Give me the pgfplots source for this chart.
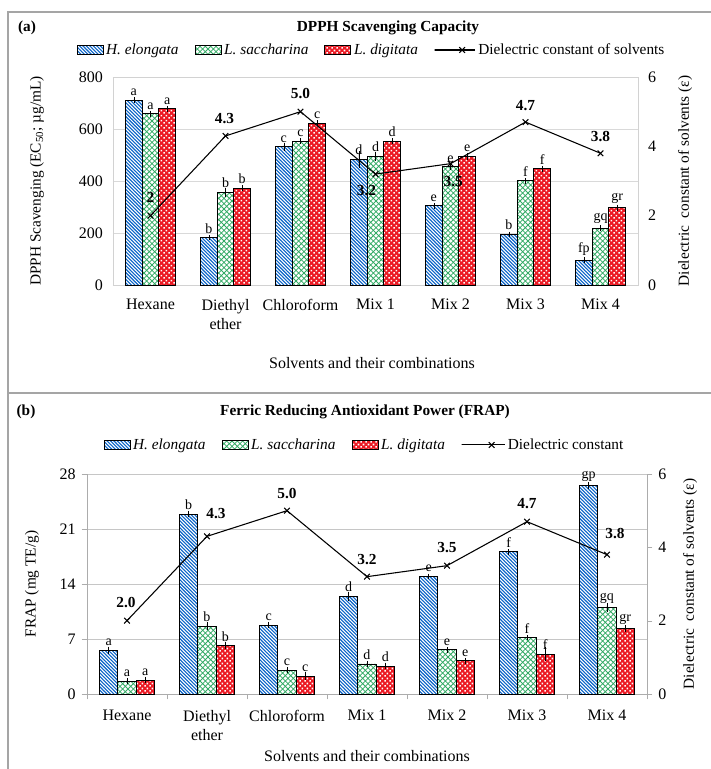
\documentclass[border=0pt]{standalone}
\usepackage{pgfplots}
\pgfplotsset{compat=1.18}
\usepackage{pgfplotstable}
\usepackage{fontspec}
\setmainfont{Liberation Serif}
\usetikzlibrary{patterns}

\definecolor{hblue}{RGB}{10,100,200}
\definecolor{lgreen}{RGB}{50,170,100}
\definecolor{dred}{RGB}{235,25,35}
\definecolor{framegray}{RGB}{165,165,165}

\pgfdeclarepatternformonly{hstripes}{\pgfqpoint{-1pt}{-1pt}}{\pgfqpoint{3.6pt}{3.6pt}}{\pgfqpoint{2.6pt}{2.6pt}}{%
  \pgfsetlinewidth{0.75pt}%
  \pgfpathmoveto{\pgfqpoint{-0.1pt}{2.7pt}}\pgfpathlineto{\pgfqpoint{2.7pt}{-0.1pt}}%
  \pgfusepath{stroke}}
\pgfdeclarepatternformonly{gcross}{\pgfqpoint{-1pt}{-1pt}}{\pgfqpoint{5pt}{5pt}}{\pgfqpoint{4pt}{4pt}}{%
  \pgfsetlinewidth{0.6pt}%
  \pgfpathmoveto{\pgfqpoint{-0.1pt}{-0.1pt}}\pgfpathlineto{\pgfqpoint{4.1pt}{4.1pt}}%
  \pgfpathmoveto{\pgfqpoint{-0.1pt}{4.1pt}}\pgfpathlineto{\pgfqpoint{4.1pt}{-0.1pt}}%
  \pgfusepath{stroke}}
\pgfdeclarepatternformonly{rdots}{\pgfqpoint{0pt}{0pt}}{\pgfqpoint{3.6pt}{3.6pt}}{\pgfqpoint{3.6pt}{3.6pt}}{%
  \pgfpathrectangle{\pgfqpoint{0.2pt}{0.2pt}}{\pgfqpoint{1.3pt}{1.3pt}}%
  \pgfpathrectangle{\pgfqpoint{2pt}{2pt}}{\pgfqpoint{1.3pt}{1.3pt}}%
  \pgfusepath{fill}}

\newcommand{\lab}{\fontsize{11.5}{14.5}\selectfont}
\newcommand{\tck}{\fontsize{12}{14.5}\selectfont}
\newcommand{\letr}{\fontsize{10.5}{12}\selectfont}
\newcommand{\ic}[2]{({(#1)*0.75pt},{(769-(#2))*0.75pt})}

\pgfplotstableread{
x he hee hel ls lse lsl ld lde ldl
0 711 3 a 659 3 a 678 3 a
1 182 2 b 356 8 b 372 3 b
2 531 6 c 553 3 c 622 3 c
3 483 25 d 495 8 d 553 3 d
4 304 3 e 455 5 e 494 5 e
5 195 2 b 401 3 f 447 3 f
6 96 2 fp 218 3 gq 297 4 gr
}\dpph

\pgfplotstableread{
x he hee hel ls lse lsl ld lde ldl
0 5.56 0.2 a 1.65 0.1 a 1.74 0.1 a
1 22.9 0.15 b 8.65 0.2 b 6.15 0.15 b
2 8.78 0.12 c 3.05 0.1 c 2.29 0.2 c
3 12.4 0.25 d 3.82 0.1 d 3.56 0.15 d
4 15.0 0.05 e 5.64 0.1 e 4.24 0.1 e
5 18.1 0.1 f 7.17 0.05 f 5.05 0.6 f
6 26.5 0.2 gp 11.0 0.25 gq 8.31 0.15 gr
}\frap

\pgfplotstableread{
x d
0 2.0
1 4.3
2 5.0
3 3.2
4 3.5
5 4.7
6 3.8
}\diel

\pgfplotsset{
  hestyle/.style={fill=hblue, draw=black, line width=0.7pt, postaction={pattern=hstripes, pattern color=white}},
  lsstyle/.style={fill=white, draw=black, line width=0.7pt, postaction={pattern=gcross, pattern color=lgreen}},
  ldstyle/.style={fill=dred, draw=black, line width=0.7pt, postaction={pattern=rdots, pattern color=white}},
  barcommon/.style={
    ybar, xmin=-0.5, xmax=6.5, scale only axis, clip=false,
    xtick={0,...,6},
    xticklabels={Hexane,{Diethyl\\ether},Chloroform,Mix 1,Mix 2,Mix 3,Mix 4},
    /pgf/number format/assume math mode=true,
    legend image code/.code={\draw[##1] (0pt,-3.4pt) rectangle (19.5pt,3.4pt);},
    legend columns=4,
    error bars/y dir=both, error bars/y explicit,
    error bars/error bar style={black, line width=0.45pt},
    error bars/error mark options={black, mark size=1.6pt, line width=0.45pt},
    nodes near coords, point meta=explicit symbolic,
    nodes near coords style={font=\letr, inner sep=1pt, yshift=2pt, black},
  },
  linelegend/.style={black, line width=0.8pt, mark=x, mark size=3pt,
    legend image code/.code={\draw[##1] (0pt,0pt) -- (19.5pt,0pt); \path[##1] plot coordinates {(9.75pt,0pt)};}},
}

\begin{document}
\begin{tikzpicture}
\useasboundingbox (0,0) rectangle (533.25pt,576.75pt);
\draw[framegray, line width=0.9pt] \ic{8}{12} rectangle \ic{716}{393};
\draw[framegray, line width=0.9pt] \ic{8}{393} rectangle \ic{716}{776};

% ---------------- Panel (a) ----------------
\begin{axis}[barcommon,
  at={(84.75pt,363pt)}, anchor=south west,
  width=393.75pt, height=156pt,
  ymin=0, ymax=800, ytick={0,200,...,800},
  bar width=0.222,
  xticklabel style={align=center, font=\tck, yshift=-7pt},
  yticklabel style={font=\tck, xshift=-4pt},
  major tick length=0pt,
  axis line style={draw=gray!35},
  ymajorgrids, grid style={draw=gray!30},
  legend style={at={(0.493,1.130)}, anchor=center, draw=none, fill=none, font=\lab, inner sep=0pt,
    /tikz/every even column/.append style={column sep=10pt}},
]
\addplot[hestyle, bar shift=-0.222] table[x=x, y=he, y error=hee, meta=hel]{\dpph};
\addlegendentry{\textit{H. elongata}}
\addplot[lsstyle, bar shift=0] table[x=x, y=ls, y error=lse, meta=lsl]{\dpph};
\addlegendentry{\textit{L. saccharina}}
\addplot[ldstyle, bar shift=0.222] table[x=x, y=ld, y error=lde, meta=ldl]{\dpph};
\addlegendentry{\textit{L. digitata}}
\addlegendimage{linelegend}
\addlegendentry{Dielectric constant of solvents}
\end{axis}

\begin{axis}[
  at={(84.75pt,363pt)}, anchor=south west, scale only axis, clip=false,
  width=393.75pt, height=156pt,
  xmin=-0.5, xmax=6.5, ymin=0, ymax=6,
  axis x line=none, axis y line*=right,
  ytick={0,2,4,6}, major tick length=0pt,
  yticklabel style={font=\tck, xshift=4pt},
  /pgf/number format/assume math mode=true,
  axis line style={draw=gray!35},
]
\addplot[black, line width=0.8pt, mark=x, mark size=3pt] table[x=x, y=d]{\diel};
\begin{scope}[every node/.style={font=\lab\bfseries}]
\node at (axis cs:0,2.0) [yshift=13.5pt] {2};
\node at (axis cs:1,4.3) [xshift=-0.75pt, yshift=12.75pt] {4.3};
\node at (axis cs:2,5.0) [yshift=13.5pt] {5.0};
\node at (axis cs:3,3.2) [xshift=-6.75pt, yshift=-12pt] {3.2};
\node at (axis cs:4,3.5) [xshift=2pt, yshift=-13.5pt] {3.5};
\node at (axis cs:5,4.7) [yshift=12.75pt] {4.7};
\node at (axis cs:6,3.8) [yshift=12.75pt] {3.8};
\end{scope}
\end{axis}

\node[font=\lab\bfseries] at \ic{27}{28} {(a)};
\node[font=\lab\bfseries] at \ic{388}{28} {DPPH Scavenging Capacity};
\node[font=\lab, rotate=90] at \ic{37}{181} {DPPH Scavenging (EC\textsubscript{50}; µg/mL)};
\node[font=\lab, rotate=90] at \ic{685}{181} {Dielectric\ \ constant of solvents (ε)};
\node[font=\tck] at \ic{372}{363} {Solvents and their combinations};

% ---------------- Panel (b) ----------------
\begin{axis}[barcommon,
  at={(65.25pt,56.25pt)}, anchor=south west,
  width=420pt, height=165pt,
  ymin=0, ymax=28, ytick={0,7,...,28},
  bar width=0.229,
  axis x line*=bottom, axis y line*=left,
  axis line style={draw=gray!65},
  tick align=outside, major tick length=4pt, minor tick length=4pt,
  major x tick style={draw=none},
  minor xtick={-0.5,0.5,...,6.5},
  minor x tick style={draw=gray!65},
  ytick style={draw=gray!65},
  xticklabel style={align=center, font=\tck, yshift=-4.5pt},
  yticklabel style={font=\tck, xshift=-1pt},
  ymajorgrids, grid style={draw=gray!45},
  legend style={at={(0.496,1.132)}, anchor=center, draw=none, fill=none, font=\lab, inner sep=0pt,
    /tikz/every even column/.append style={column sep=10pt}},
]
\addplot[hestyle, bar shift=-0.229] table[x=x, y=he, y error=hee, meta=hel]{\frap};
\addlegendentry{\textit{H. elongata}}
\addplot[lsstyle, bar shift=0] table[x=x, y=ls, y error=lse, meta=lsl]{\frap};
\addlegendentry{\textit{L. saccharina}}
\addplot[ldstyle, bar shift=0.229] table[x=x, y=ld, y error=lde, meta=ldl]{\frap};
\addlegendentry{\textit{L. digitata}}
\addlegendimage{linelegend}
\addlegendentry{Dielectric constant}
\end{axis}

\begin{axis}[
  at={(65.25pt,56.25pt)}, anchor=south west, scale only axis, clip=false,
  width=420pt, height=165pt,
  xmin=-0.5, xmax=6.5, ymin=0, ymax=6,
  axis x line=none, axis y line*=right,
  ytick={0,2,4,6}, tick align=outside, major tick length=4pt,
  ytick style={draw=gray!65},
  yticklabel style={font=\tck, xshift=1pt},
  /pgf/number format/assume math mode=true,
  axis line style={draw=gray!65},
]
\addplot[black, line width=0.8pt, mark=x, mark size=3pt] table[x=x, y=d]{\diel};
\begin{scope}[every node/.style={font=\lab\bfseries}]
\node at (axis cs:0,2.0) [xshift=-0.75pt, yshift=13.5pt] {2.0};
\node at (axis cs:1,4.3) [xshift=6.75pt, yshift=17.25pt] {4.3};
\node at (axis cs:2,5.0) [yshift=12.75pt] {5.0};
\node at (axis cs:3,3.2) [yshift=12.75pt] {3.2};
\node at (axis cs:4,3.5) [yshift=13.5pt] {3.5};
\node at (axis cs:5,4.7) [yshift=13.5pt] {4.7};
\node at (axis cs:6,3.8) [xshift=6pt, yshift=15.75pt] {3.8};
\end{scope}
\end{axis}

\node[font=\lab\bfseries] at \ic{26}{412} {(b)};
\node[font=\lab\bfseries] at \ic{365}{412} {Ferric Reducing Antioxidant Power (FRAP)};
\node[font=\lab, rotate=90] at \ic{32}{584} {FRAP (mg TE/g)};
\node[font=\lab, rotate=90] at \ic{690}{584} {Dielectric\ \ constant of solvents (ε)};
\node[font=\tck] at \ic{367}{756} {Solvents and their combinations};
\end{tikzpicture}
\end{document}
